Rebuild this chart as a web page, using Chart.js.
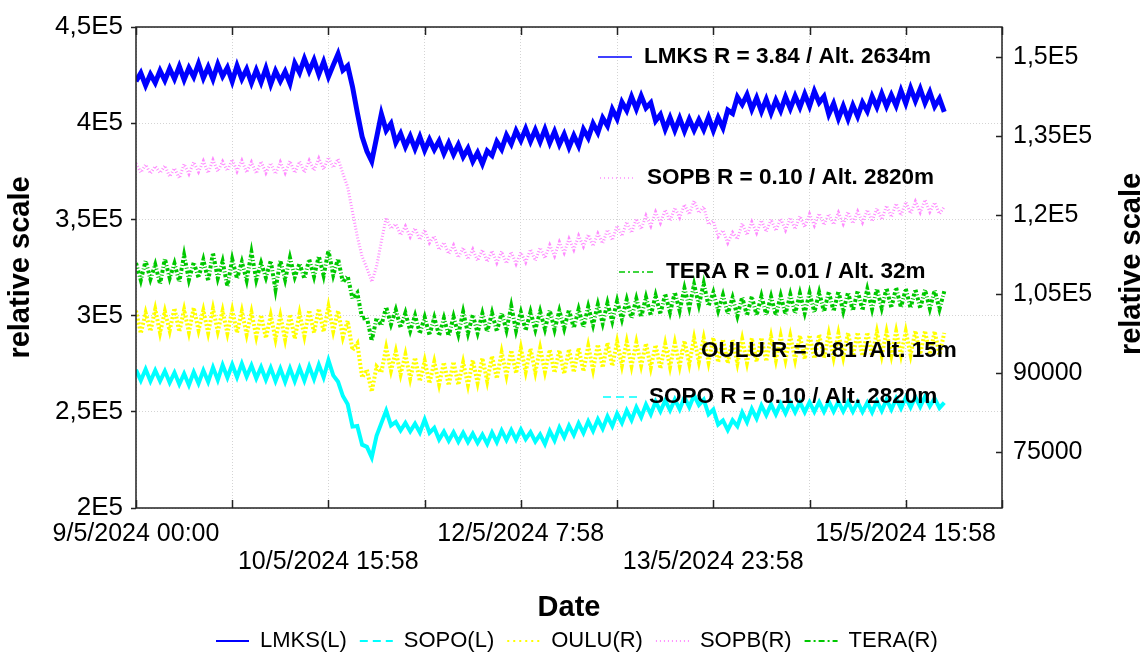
<!DOCTYPE html>
<html>
<head>
<meta charset="utf-8">
<script src="https://cdn.jsdelivr.net/npm/chart.js@4.4.1/dist/chart.umd.min.js"></script>
<style>
  html, body { margin: 0; padding: 0; background: #fff; }
  #wrap { width: 1146px; height: 652px; }
</style>
</head>
<body>
<div id="wrap"><canvas id="chart" width="1146" height="652"></canvas></div>
<script>
// hourly readings from 9/5/2024 00:00
const LMKS = [421800,426100,419600,425400,421000,427300,422200,428400,423000,429500,
  422600,428800,424100,431000,423500,429200,422900,430600,424400,428900,
  421700,429800,423000,428100,420900,427600,421300,428500,420200,427100,
  421900,426800,420600,431200,426300,433500,427000,432800,425400,431900,
  424100,430200,436000,427500,429800,419000,405500,393000,385400,380200,
  392500,404800,396200,399800,389900,394600,387800,393200,386700,392900,
  385900,391500,386300,390800,384200,389700,383800,388900,382600,386900,
  380100,384700,378900,385600,383200,390400,386500,393800,389200,396000,
  391000,397100,390600,396500,390400,396900,389800,395700,388900,394300,
  387500,393600,388200,396800,392400,399800,395100,402700,398600,407200,
  402300,411000,406600,413800,407400,414200,407900,410600,401200,404500,
  396800,402900,396300,402600,395900,402100,396400,401800,396600,403100,
  396200,402900,397600,406800,405100,413600,409700,414800,407200,413100,
  406100,412400,405300,411900,406500,413700,407600,414100,408300,415200,
  408900,416600,410700,413900,404600,410200,402400,408900,402100,409300,
  403500,410700,406200,413900,408400,415300,408800,414700,409100,416900,
  410300,418200,411600,417800,410500,416100,408700,412800,405900];

const SOPO = [271800,266300,272100,265900,271500,266000,271200,265200,270400,264300,
  269800,263900,270600,264800,271500,265600,273100,266500,274300,267800,
  274600,268000,275000,268300,274100,267400,273200,266700,272900,266000,
  272400,265600,272600,265900,272800,266200,273600,267000,274500,267900,
  276800,268900,265600,258200,253900,242300,242600,232900,231800,226300,
  237500,244100,250600,242900,244700,240300,244200,239800,243800,239300,
  246000,239100,241700,235600,239700,234900,239400,234500,239100,234300,
  238600,233800,238100,233300,239200,234200,240300,235300,240500,235500,
  240800,235800,239400,234500,238200,233300,240000,235100,241800,236800,
  242800,237900,244000,239000,245000,240000,246100,241200,247600,242600,
  249100,244200,250700,245700,252300,247200,253800,248700,255300,250300,
  255900,250800,256400,251300,257500,252400,258600,253500,256300,248700,
  251200,243400,245500,240500,245600,242500,249700,244600,251500,246500,
  253300,248300,253800,248700,254200,249200,254800,249800,254900,249800,
  255000,250000,255100,250100,255300,250200,255200,250200,255100,250100,
  255000,250000,254800,249800,255600,250500,256300,251200,256900,251800,
  257400,252400,257700,252700,257900,252900,257000,252000,254800];

const OULU = [101800,97500,101400,97900,102100,97600,101700,98000,102300,97800,
  102000,97700,102400,98100,101900,97600,102200,97900,101800,97500,
  101900,97600,101700,97300,101500,96900,101000,96600,100900,96400,
  100800,96300,101100,96500,101300,97000,101900,97600,102200,97800,
  102600,97900,101800,96800,99900,94300,95600,89100,90600,86400,
  91200,90100,94800,90400,94100,89700,93500,88900,92900,88400,
  92300,88000,92100,87800,92000,87600,92100,87700,92000,87700,
  92400,88100,92800,88400,93200,88900,93900,89500,94300,89900,
  94700,90200,94600,90100,94700,90200,94400,90000,94300,89800,
  94500,90100,94700,90300,95100,90600,95400,91000,95700,91300,
  95900,91400,95900,91300,95800,91400,95600,91000,95300,90800,
  95500,91100,95700,91300,96100,91700,96600,92100,96600,92000,
  96700,92000,96400,91800,96300,91800,96400,91900,96600,92100,
  96700,92200,96900,92400,97000,92500,97000,92500,97100,92600,
  97200,92700,97300,92800,97400,92900,97500,93000,97600,93100,
  97700,93200,97700,93200,97800,93300,97800,93300,97900,93400,
  97900,93400,98000,93500,98000,93500,97900,93400,97600];

const SOPB = [129800,128100,129600,127900,129300,128000,129400,127300,128900,127000,
  129700,127800,130100,128200,130300,128000,130500,128300,130200,128400,
  130600,128300,130400,128100,130100,127900,130200,128000,129900,127800,
  130100,128000,130300,128000,130200,128100,130400,128500,130800,128700,
  131000,129000,130700,127900,125300,120600,115900,112100,109900,107300,
  110200,115000,119500,117400,118300,116200,117900,115800,117500,115300,
  117200,114700,116000,113400,114800,112600,114300,111900,113800,111600,
  113500,111300,113400,111100,113200,110900,113100,110800,113000,110700,
  112900,111000,113500,111300,113800,111800,114300,112200,114900,112800,
  115500,113400,116100,114000,116300,114100,116500,114600,117200,115200,
  118000,116000,118700,116600,119300,117300,119900,117900,120600,118500,
  121000,118900,121400,119500,122000,120100,122700,120400,121600,118200,
  118900,115900,117100,114700,116700,115400,118400,116200,118700,116600,
  119000,116800,119200,117000,119300,117100,119500,117300,119800,117700,
  120200,118000,120300,118100,120200,118200,120500,118300,120600,118400,
  120700,118600,121000,118800,121300,119100,121800,119600,122200,119900,
  122500,120300,122600,120500,122900,120600,122400,120200,121600];

const TERA = [110900,107600,111300,107800,110600,106900,111700,108000,110800,107300,
  112400,107700,111000,108100,111500,107500,112800,108000,111200,106400,
  111600,107900,111100,107600,112900,107700,110900,108100,111300,105800,
  111400,107700,111900,108200,110800,107900,111600,108300,112200,108500,
  113300,108600,111700,107200,108400,104100,105200,100300,100500,96100,
  100400,99000,102500,99200,102000,98600,101400,98000,100900,97500,
  100600,97200,100500,97100,100400,97000,100700,97300,101600,97500,
  101000,97600,101300,97800,101400,97900,101400,98100,102700,98000,
  101500,98100,101600,98200,101700,98300,101900,98200,101800,98400,
  102000,98500,102100,98700,102600,99100,103000,99400,103300,99800,
  103700,100200,103900,100400,104100,100600,104400,100900,104700,101200,
  105000,101500,105300,101800,106100,102400,106800,102900,107000,102700,
  105300,101800,104800,101200,104300,100800,104400,100900,104500,100900,
  104600,101000,104500,100900,104700,101100,104900,101300,105100,101400,
  105200,101500,105300,101600,105400,101700,105500,101700,105300,101800,
  105600,101900,105900,102100,106000,102300,106100,102400,106200,102400,
  106000,102300,105900,102300,105800,102200,105700,102100,105500];

const hours = LMKS.map((_, i) => i);

// axis ticks
const xTicks = [0, 20, 39.97, 60, 79.97, 100, 119.97, 140, 159.97, 180];
const xTickLabels = ['9/5/2024 00:00', '', '10/5/2024 15:58', '', '12/5/2024 7:58', '', '13/5/2024 23:58', '', '15/5/2024 15:58', ''];
const leftTicks = [200000, 250000, 300000, 350000, 400000, 450000];
const leftTickLabels = ['2E5', '2,5E5', '3E5', '3,5E5', '4E5', '4,5E5'];
const rightTicks = [75000, 90000, 105000, 120000, 135000, 150000];
const rightTickLabels = ['75000', '90000', '1,05E5', '1,2E5', '1,35E5', '1,5E5'];

// series names and in-plot notes
const legendNames = ['LMKS(L)', 'SOPO(L)', 'OULU(R)', 'SOPB(R)', 'TERA(R)'];
const notes = ['LMKS R = 3.84 / Alt. 2634m', 'SOPO R = 0.10 / Alt. 2820m', 'OULU R = 0.81 /Alt. 15m', 'SOPB R = 0.10 / Alt. 2820m', 'TERA R = 0.01 / Alt. 32m'];

const FONT = '"Liberation Sans", Arial, sans-serif';
const colors = ['#0000ff', '#00ffff', '#ffff00', '#ff8cff', '#00c800'];
const legendDash = [[], [8, 5], [2, 4], [1, 3], [6, 3, 2, 3]];
// where the notes sit: line start x, y, text x
const notePos = [[598, 57, 644], [603, 397, 649], [656, 351, 701], [600, 178, 647], [619, 272, 666]];

const decor = {
  id: 'decor',
  afterDatasetsDraw(chart) {
    const ctx = chart.ctx;
    ctx.save();
    ctx.font = 'bold 22.5px ' + FONT;
    ctx.textBaseline = 'middle';
    notes.forEach((txt, i) => {
      const [lx, ly, tx] = notePos[i];
      ctx.strokeStyle = colors[i];
      ctx.lineWidth = 1.5;
      ctx.setLineDash(legendDash[i]);
      ctx.beginPath();
      ctx.moveTo(lx, ly);
      ctx.lineTo(lx + 34, ly);
      ctx.stroke();
      ctx.setLineDash([]);
      ctx.fillStyle = '#000';
      ctx.fillText(txt, tx, ly);
    });
    ctx.restore();
  },
  afterDraw(chart) {
    const ctx = chart.ctx;
    const a = chart.chartArea;
    const xs = chart.scales.x;
    const yr = chart.scales.yR;
    ctx.save();
    ctx.strokeStyle = '#222';
    ctx.lineWidth = 1.5;
    ctx.setLineDash([]);
    ctx.strokeRect(a.left, a.top, a.right - a.left, a.bottom - a.top);

    // inward tick marks on bottom, top and right
    ctx.beginPath();
    xTicks.forEach(v => {
      const px = Math.round(xs.getPixelForValue(v)) + 0.5;
      ctx.moveTo(px, a.bottom);
      ctx.lineTo(px, a.bottom - 8);
      ctx.moveTo(px, a.top);
      ctx.lineTo(px, a.top + 8);
    });
    rightTicks.forEach(v => {
      const py = Math.round(yr.getPixelForValue(v)) + 0.5;
      ctx.moveTo(a.right, py);
      ctx.lineTo(a.right - 6, py);
    });
    ctx.stroke();

    // right axis title, reading upwards like the left one
    ctx.fillStyle = '#000';
    ctx.font = 'bold 29px ' + FONT;
    ctx.textAlign = 'center';
    ctx.textBaseline = 'middle';
    ctx.translate(1132, 264);
    ctx.rotate(-Math.PI / 2);
    ctx.fillText('relative scale', 0, 0);
    ctx.setTransform(1, 0, 0, 1, 0, 0);

    // legend at the bottom
    ctx.font = '22px ' + FONT;
    ctx.textAlign = 'left';
    let x = 216;
    const y = 641;
    legendNames.forEach((name, i) => {
      ctx.strokeStyle = colors[i];
      ctx.lineWidth = 2;
      ctx.setLineDash(legendDash[i]);
      ctx.beginPath();
      ctx.moveTo(x, y);
      ctx.lineTo(x + 33, y);
      ctx.stroke();
      ctx.setLineDash([]);
      ctx.fillText(name, x + 44, y);
      x += 44 + ctx.measureText(name).width + 13;
    });
    ctx.restore();
  }
};

const gridColor = '#d4d4d4';

new Chart(document.getElementById('chart'), {
  type: 'line',
  data: {
    labels: hours,
    datasets: [
      { label: legendNames[0], data: LMKS, yAxisID: 'yL', borderColor: colors[0], borderWidth: 5 },
      { label: legendNames[1], data: SOPO, yAxisID: 'yL', borderColor: colors[1], borderWidth: 4 },
      { label: legendNames[2], data: OULU, yAxisID: 'yR', borderColor: colors[2], borderWidth: 4, borderDash: [2, 2] },
      { label: legendNames[3], data: SOPB, yAxisID: 'yR', borderColor: colors[3], borderWidth: 3, borderDash: [1, 2] },
      { label: legendNames[4], data: TERA, yAxisID: 'yR', borderColor: colors[4], borderWidth: 4, borderDash: [3, 2, 1, 2] }
    ]
  },
  options: {
    responsive: false,
    animation: false,
    layout: { padding: { top: 27, left: 0, right: 0, bottom: 0 } },
    elements: { point: { radius: 0 }, line: { tension: 0 } },
    plugins: { legend: { display: false }, tooltip: { enabled: false } },
    scales: {
      x: {
        type: 'linear',
        min: 0,
        max: 180,
        afterBuildTicks: s => { s.ticks = xTicks.map(v => ({ value: v })); },
        afterFit: s => { s.height = 144; },
        grid: { color: gridColor, drawTicks: false },
        border: { display: false, dash: [1, 2] },
        ticks: {
          autoSkip: false,
          maxRotation: 0,
          padding: 12,
          color: '#000',
          font: { family: FONT, size: 25, lineHeight: 1.12 },
          callback: (v, i) => {
            const t = xTickLabels[i];
            if (!t) return '';
            return i % 4 === 2 ? ['', t] : t;
          }
        },
        title: {
          display: true,
          text: 'Date',
          color: '#000',
          font: { family: FONT, size: 29, weight: 'bold', lineHeight: 1 },
          padding: { top: 0, bottom: 29.5 }
        }
      },
      yL: {
        position: 'left',
        min: 200000,
        max: 450000,
        afterBuildTicks: s => { s.ticks = leftTicks.map(v => ({ value: v })); },
        afterFit: s => { s.width = 136; },
        grid: { color: gridColor, tickLength: 5, tickColor: '#222', tickWidth: 1.5, tickBorderDash: [] },
        border: { display: false, dash: [1, 2] },
        ticks: {
          padding: 8,
          color: '#000',
          font: { family: FONT, size: 26 },
          callback: (v, i) => leftTickLabels[i]
        },
        title: {
          display: true,
          text: 'relative scale',
          color: '#000',
          font: { family: FONT, size: 29, weight: 'bold', lineHeight: 1 },
          padding: { top: 6.5, bottom: 0 }
        }
      },
      yR: {
        position: 'right',
        min: 64294,
        max: 155762,
        afterBuildTicks: s => { s.ticks = rightTicks.map(v => ({ value: v })); },
        afterFit: s => { s.width = 144; },
        grid: { display: false, drawTicks: false },
        border: { display: false },
        ticks: {
          padding: 11,
          color: '#000',
          font: { family: FONT, size: 25 },
          callback: (v, i) => rightTickLabels[i]
        }
      }
    }
  },
  plugins: [decor]
});
</script>
</body>
</html>
